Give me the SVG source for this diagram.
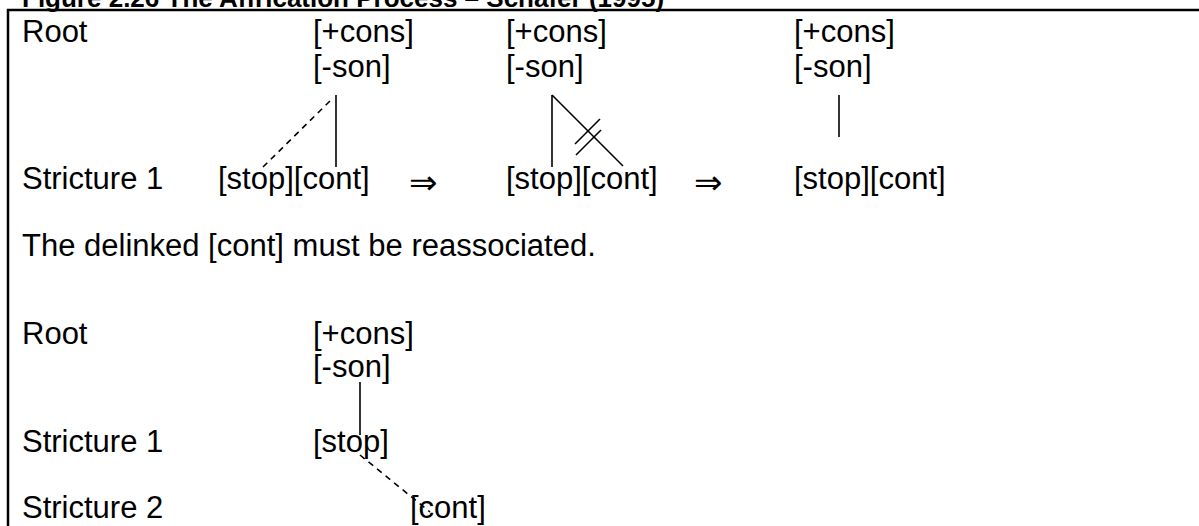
<svg xmlns="http://www.w3.org/2000/svg" width="1199" height="526" viewBox="0 0 1199 526">
  <style>
    text { font-family: "Liberation Sans", Arial, sans-serif; font-size: 31px; fill: #000; }
    .title { font-weight: bold; font-size: 26px; }
    .arrow { font-family: "DejaVu Sans", "Liberation Sans", sans-serif; font-size: 34px; }
    .link { stroke: #000; stroke-width: 1.6; fill: none; }
    .dash { stroke-dasharray: 6 5; }
    .frame { stroke: #000; stroke-width: 2.5; fill: none; }
  </style>
  <rect width="1199" height="526" fill="#fff"/>

  <!-- caption, clipped by the top edge -->
  <text class="title" x="22" y="7">Figure 2.26 The Affrication Process – Schafer (1995)</text>

  <!-- frame -->
  <path class="frame" d="M8 526 V10 H1199"/>

  <!-- tier labels -->
  <g id="tier-labels">
    <text x="22" y="42">Root</text>
    <text x="22" y="189">Stricture 1</text>
    <text x="22" y="344">Root</text>
    <text x="22" y="452">Stricture 1</text>
    <text x="22" y="518">Stricture 2</text>
  </g>

  <!-- stage 1 -->
  <g id="root-a">
    <text x="313" y="42">[+cons]</text>
    <text x="313" y="77">[-son]</text>
  </g>
  <g id="stricture-a"><text x="218" y="189">[stop][cont]</text></g>
  <g id="arrow-1"><text class="arrow" x="409" y="194">⇒</text></g>

  <!-- stage 2 -->
  <g id="root-b">
    <text x="506" y="42">[+cons]</text>
    <text x="506" y="77">[-son]</text>
  </g>
  <g id="stricture-b"><text x="506" y="189">[stop][cont]</text></g>
  <g id="arrow-2"><text class="arrow" x="694" y="194">⇒</text></g>

  <!-- stage 3 -->
  <g id="root-c">
    <text x="794" y="42">[+cons]</text>
    <text x="794" y="77">[-son]</text>
  </g>
  <g id="stricture-c"><text x="794" y="189">[stop][cont]</text></g>

  <!-- note -->
  <g id="note"><text x="22" y="256">The delinked [cont] must be reassociated.</text></g>

  <!-- result -->
  <g id="root-d">
    <text x="313" y="344">[+cons]</text>
    <text x="313" y="377">[-son]</text>
  </g>
  <g id="stricture1-d"><text x="313" y="452">[stop]</text></g>
  <g id="stricture2-d"><text x="410" y="518">[cont]</text></g>

  <!-- association lines -->
  <g id="connectors">
    <line class="link" x1="336" y1="95" x2="336" y2="167"/>
    <line class="link dash" x1="263" y1="167" x2="333" y2="98"/>

    <line class="link" x1="552" y1="95" x2="552" y2="167"/>
    <line class="link" x1="552" y1="95" x2="623" y2="166"/>
    <line class="link" x1="575" y1="144" x2="600" y2="119"/>
    <line class="link" x1="576" y1="155" x2="601" y2="130"/>

    <line class="link" x1="839" y1="95" x2="839" y2="137"/>

    <line class="link" x1="360" y1="382" x2="360" y2="435"/>
    <line class="link dash" x1="360" y1="455" x2="430" y2="512"/>
  </g>
</svg>
